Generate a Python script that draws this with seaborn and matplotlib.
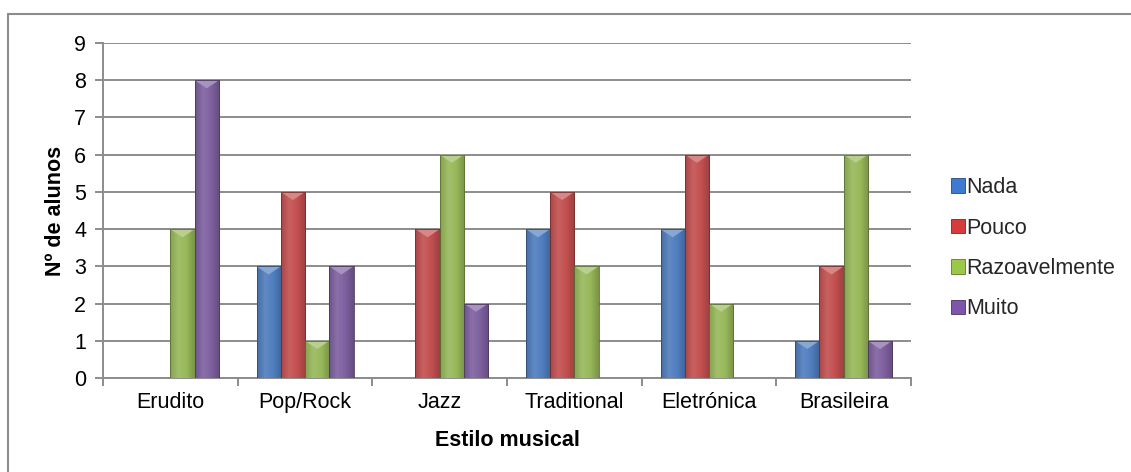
import numpy as np
import pandas as pd
import matplotlib
matplotlib.use("Agg")
import matplotlib.pyplot as plt
import matplotlib.colors as mcolors
from matplotlib.patches import Polygon
from matplotlib.lines import Line2D
import seaborn as sns

# Survey data: how much students like each musical style
estilos = ["Erudito", "Pop/Rock", "Jazz", "Traditional", "Eletrónica", "Brasileira"]
niveis = ["Nada", "Pouco", "Razoavelmente", "Muito"]
nada = [0, 3, 0, 4, 4, 1]
pouco = [0, 5, 4, 5, 6, 3]
razoavelmente = [4, 1, 6, 3, 2, 6]
muito = [8, 3, 2, 0, 0, 1]
y_ticks = list(range(0, 10))

cores = ["#3d7ad0", "#d63c3c", "#9cc84a", "#7d55aa"]

df = pd.DataFrame({"Estilo": estilos, "Nada": nada, "Pouco": pouco,
                   "Razoavelmente": razoavelmente, "Muito": muito})
long = df.melt(id_vars="Estilo", value_vars=niveis, var_name="Nível", value_name="Alunos")

sns.set_theme(style="white")
plt.rcParams["font.family"] = ["Liberation Sans", "DejaVu Sans"]
FS = 15.5

fig = plt.figure(figsize=(11.31, 4.72), dpi=100)
ax = fig.add_axes([0.0911, 0.199, 0.7144, 0.710])

sns.barplot(data=long, x="Estilo", y="Alunos", hue="Nível", order=estilos,
            hue_order=niveis, palette=cores, width=0.72, gap=0, ax=ax,
            edgecolor="none", linewidth=0, legend=False, zorder=3)

ax.set_yticks(y_ticks)
ax.yaxis.grid(True, color="#8c8c8c", linewidth=1.4, zorder=0)
ax.set_axisbelow(True)


def mix(c, t, amount):
    c = np.array(mcolors.to_rgb(c)); t = np.array(mcolors.to_rgb(t))
    return tuple(c + (t - c) * amount)


# Shaded, bevelled bars
for p in list(ax.patches):
    h = p.get_height()
    if h <= 0:
        p.set_visible(False)
        continue
    base = p.get_facecolor()[:3]
    x0, w = p.get_x(), p.get_width()
    grad_cols = [mix(base, "black", 0.12), mix(base, "white", 0.1),
                 base, mix(base, "black", 0.2)]
    cmap = mcolors.LinearSegmentedColormap.from_list("g", grad_cols)
    img = np.linspace(0, 1, 64).reshape(1, -1)
    im = ax.imshow(img, cmap=cmap, aspect="auto", extent=[x0, x0 + w, 0, h],
                   zorder=3.5, interpolation="bilinear")
    im.set_clip_path(p)
    depth = min(0.22, h * 0.5)
    tri = Polygon([[x0, h], [x0 + w, h], [x0 + w * 0.5, h - depth]], closed=True,
                  facecolor=mix(base, "white", 0.32), edgecolor="none", zorder=3.6)
    ax.add_patch(tri)
    ax.add_patch(plt.Rectangle((x0, 0), w, h, fill=False,
                               edgecolor=mix(base, "black", 0.4), linewidth=0.6, zorder=3.7))

ax.set_xlim(-0.5, len(estilos) - 0.5)
ax.set_ylim(0, 9)

# Axes styling
for s in ["top", "right"]:
    ax.spines[s].set_visible(False)
for s in ["left", "bottom"]:
    ax.spines[s].set_color("#8c8c8c")
    ax.spines[s].set_linewidth(1.4)
ax.tick_params(axis="y", which="major", length=6, width=1.4, color="#8c8c8c",
               left=True, labelsize=FS, labelcolor="black", pad=6)
ax.tick_params(axis="x", which="major", length=0, labelsize=FS, labelcolor="black", pad=10)
ax.set_xticks(np.arange(-0.5, len(estilos), 1.0), minor=True)
ax.tick_params(axis="x", which="minor", length=6, width=1.4, color="#8c8c8c", bottom=True)

ax.set_xlabel("Estilo musical", fontsize=FS, fontweight="bold", color="black", labelpad=12)
ax.set_ylabel("Nº de alunos", fontsize=FS, fontweight="bold", color="black", labelpad=6)

# Legend
handles = [plt.Rectangle((0, 0), 1, 1, facecolor=c, edgecolor=mix(c, "black", 0.4), linewidth=0.6)
           for c in cores]
leg = fig.legend(handles, niveis, loc="center left", bbox_to_anchor=(0.833, 0.474),
                 frameon=False, fontsize=FS, handlelength=0.65, handleheight=0.65,
                 handletextpad=0.05, labelspacing=0.9, borderaxespad=0)

# Chart area outline
fig.add_artist(Line2D([8 / 1131, 1.0], [1 - 14 / 472, 1 - 14 / 472],
                      color="#8c8c8c", linewidth=1.5, transform=fig.transFigure))
fig.add_artist(Line2D([8 / 1131, 8 / 1131], [0, 1 - 14 / 472],
                      color="#8c8c8c", linewidth=1.5, transform=fig.transFigure))

fig.savefig("out.png", dpi=100)
